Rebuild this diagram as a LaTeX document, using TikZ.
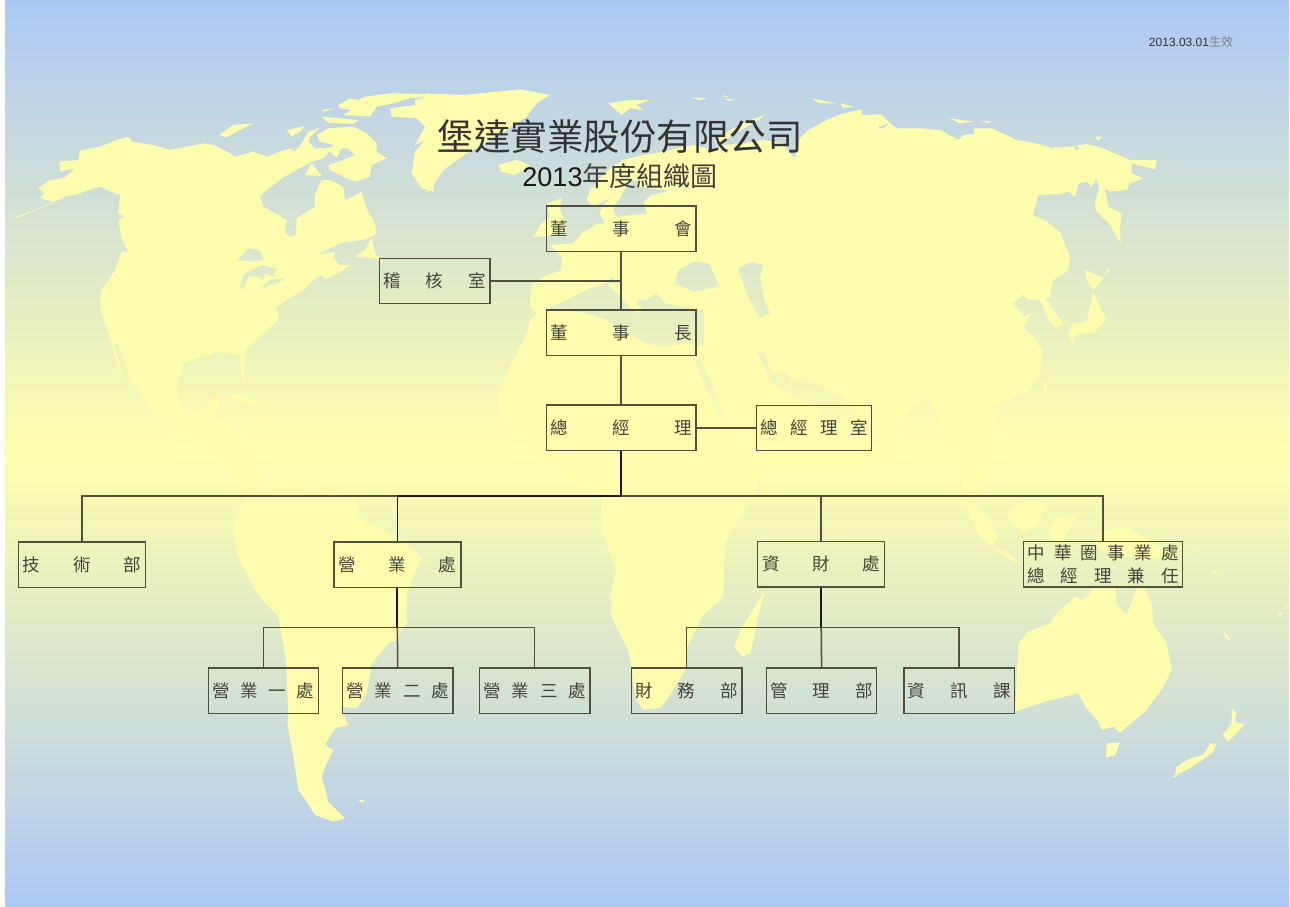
\documentclass[tikz,border=0pt]{standalone}
\usepackage{fontspec}
\setmainfont{Liberation Sans}
\newfontfamily\cjk{Noto Sans CJK TC}
\definecolor{bgblue}{HTML}{ADC8F6}
\definecolor{bgyellow}{HTML}{FFFFAB}
\definecolor{landc}{HTML}{FFFCAE}
\definecolor{linec}{HTML}{50503E}
\definecolor{textc}{HTML}{44443A}
\tikzset{
  landfill/.style={fill=landc,line join=round},
  cropA/.style={shift={(0,80)},scale=1/3},
  cropB/.style={shift={(430,80)},scale=1/3},
  cropC/.style={shift={(860,80)},scale=1/3},
  cropD/.style={shift={(130,340)},scale=1/3},
  cropE/.style={shift={(480,330)},scale=1/3},
  cropF/.style={shift={(860,350)},scale=1/3},
  cropG/.style={shift={(950,580)},scale=1/3},
  cropH/.style={shift={(200,620)},scale=1/3},
  orgbox/.style={draw=linec,line width=1.5pt,inner sep=0pt,text=textc,
    font=\cjk\fontsize{17.5}{22.7}\selectfont,align=center},
  bigbox/.style={orgbox,minimum width=149.7pt,minimum height=45.5pt},
  midbox/.style={orgbox,minimum width=127pt,minimum height=45.5pt},
  smallbox/.style={orgbox,minimum width=110.2pt,minimum height=45.5pt},
  wire/.style={draw=linec,line width=1.5pt},
  heavywire/.style={draw=black!90,line width=1.8pt},
}
\newcommand\bgfill{\shade[top color=bgblue,bottom color=bgblue,middle color=bgyellow] (5,0) rectangle (1289,906);}
\newcommand\terra[1]{\fill[landfill] plot coordinates {#1} -- cycle;}
\newcommand\mar[1]{\begin{scope}\clip plot coordinates {#1} -- cycle;\begin{scope}[reset cm]\bgfill\end{scope}\end{scope}}
\newcommand\spreadtext[2]{\makebox[#1pt][s]{#2}}
\newcommand\gap{\hfill{}}
\begin{document}
\begin{tikzpicture}[x=1pt,y=-1pt]
\useasboundingbox (0,0) rectangle (1290,906);
\fill[white] (0,0) rectangle (1290,906);
\bgfill
% North America, upper part
\begin{scope}[cropA]
\terra{(35,415)(100,392)(160,365)(120,355)(132,340)(115,325)(145,303)(195,292)(225,265)(180,275)(178,245)(235,240)(240,212)(300,200)(350,180)(385,170)(395,185)(460,195)(510,210)(570,198)(610,190)(640,195)(690,220)(705,230)(760,215)(800,230)(840,215)(870,205)(885,215)(905,190)(925,155)(960,143)(930,170)(925,185)(945,205)(975,205)(1000,200)(970,235)(935,245)(900,265)(850,292)(800,330)(780,350)(790,380)(860,420)(855,460)(870,470)(888,465)(890,415)(945,380)(945,345)(965,300)(990,300)(1030,320)(1035,362)(1085,335)(1100,385)(1125,430)(1128,462)(1095,478)(1020,490)(950,525)(1005,515)(1000,535)(1020,555)(1050,555)(1030,570)(975,600)(965,585)(940,600)(915,625)(860,660)(830,680)(835,720)(780,770)(745,800)(725,815)(735,895)(725,900)(718,825)(650,815)(620,830)(580,825)(545,845)(535,900)(392,900)(355,792)(342,795)(372,895)(360,880)(325,760)(300,680)(305,630)(345,570)(365,515)(385,515)(365,475)(355,420)(375,410)(355,400)(360,345)(345,340)(300,320)(265,330)(235,342)(195,350)(165,365)(60,410)}
\terra{(1065,530)(1095,510)(1115,470)(1125,520)(1150,548)(1125,535)}
\mar{(712,540)(745,505)(778,510)(790,540)(760,545)}
\mar{(718,625)(730,585)(785,555)(830,565)(820,590)(795,580)(790,600)(770,590)(745,590)(730,625)}
\mar{(780,625)(810,600)(855,595)(830,610)}
\terra{(950,165)(985,145)(1060,140)(1100,160)(1130,190)(1130,215)(1160,235)(1115,255)(1110,290)(1065,305)(1040,295)(990,270)(985,255)(1030,240)(1065,225)(1045,205)(1025,205)(1010,232)(990,215)(1000,195)(960,185)}
\terra{(915,285)(935,250)(965,288)}
\terra{(860,150)(915,138)(900,155)(875,170)}
\terra{(658,165)(700,135)(760,130)(720,150)(680,172)}
\terra{(965,110)(1075,120)(1060,132)(985,128)}
\terra{(965,90)(1000,85)(975,95)}
\terra{(1015,75)(1050,55)(1075,60)(1095,50)(1170,40)(1290,42)(1290,50)(1230,55)(1180,70)(1130,80)(1110,110)(1030,105)(1055,90)(1020,85)}
\terra{(1170,85)(1245,75)(1245,60)(1300,45)(1300,335)(1265,325)(1235,280)(1245,215)(1275,180)(1245,195)(1275,140)(1250,115)(1175,110)}
\end{scope}
% Mexico, Central America, Caribbean
\begin{scope}[cropD]
\terra{(0,-10)(345,-10)(345,110)(330,40)(270,30)(230,45)(160,70)(140,150)(155,200)(175,225)(210,215)(235,195)(240,175)(262,170)(265,200)(240,235)(290,250)(345,300)(370,350)(400,400)(390,440)(340,440)(260,340)(130,280)(45,190)(0,115)}
\terra{(290,170)(340,160)(395,200)(350,190)}
\terra{(370,230)(420,235)(390,245)}
% South America, upper part
\terra{(360,450)(450,420)(680,470)(680,530)(800,590)(875,650)(830,760)(830,820)(800,905)(460,905)(445,830)(380,760)(320,640)(310,560)(340,475)}
\end{scope}
\begin{scope}[cropH]
\terra{(237,-5)(258,120)(265,280)(262,310)(280,410)(295,510)(320,545)(345,585)(400,605)(435,595)(385,545)(365,470)(380,430)(400,390)(375,375)(405,325)(445,315)(420,260)(470,265)(500,220)(515,130)(570,65)(620,10)(622,-5)}
\terra{(475,540)(495,540)(485,548)}
\end{scope}
% Greenland, Europe, north-west Asia
\begin{scope}[cropB]
\terra{(-10,40)(100,45)(270,28)(360,45)(320,70)(290,110)(230,150)(110,220)(40,270)(0,330)(-10,335)}
\terra{(205,255)(260,240)(300,255)(255,285)(215,275)}
\terra{(350,370)(395,355)(390,385)(410,440)(405,460)(340,470)(310,470)(335,430)(360,410)}
\terra{(535,70)(600,60)(660,60)(620,75)(640,90)(600,85)(575,105)}
\terra{(785,52)(830,55)(805,60)}
\terra{(880,45)(895,50)(885,52)}
\terra{(885,55)(920,60)(895,62)}
\terra{(1145,55)(1220,70)(1170,70)}
\terra{(1230,70)(1270,80)(1240,85)}
\terra{(855,185)(900,150)(950,125)(1005,105)(990,118)(950,140)(900,170)(870,190)}
\terra{(1295,88)(1240,100)(1190,120)(1135,150)(1110,175)(1095,235)(1075,215)(1060,190)(1000,180)(940,190)(880,195)(850,210)(790,195)(740,205)(700,215)(640,225)(580,240)(540,265)(510,295)(480,330)(470,360)(490,378)(520,365)(545,350)(520,375)(508,400)(525,430)(500,432)(455,460)(430,490)(360,495)(395,530)(395,570)(340,590)(305,615)(298,680)(320,700)(300,720)(290,760)(240,860)(225,905)(1295,905)}
\end{scope}
% North-east Asia
\begin{scope}[cropC]
\terra{(-10,90)(10,105)(65,103)(90,130)(110,145)(185,145)(240,150)(295,180)(310,165)(345,160)(340,145)(395,145)(470,180)(520,188)(575,203)(630,200)(680,192)(730,205)(810,240)(890,240)(885,268)(815,250)(815,280)(850,295)(810,310)(800,330)(750,335)(735,325)(745,380)(785,400)(780,440)(782,490)(750,435)(708,392)(705,370)(718,320)(708,295)(695,322)(680,305)(655,312)(645,350)(625,335)(600,342)(535,345)(518,405)(560,425)(600,455)(630,530)(625,570)(580,600)(570,650)(555,655)(610,730)(590,745)(570,730)(540,660)(505,660)(490,645)(457,672)(495,710)(520,695)(490,740)(520,770)(548,820)(535,905)(-10,905)}
\terra{(268,115)(340,125)(300,130)}
\terra{(360,122)(395,125)(385,130)}
\terra{(705,170)(725,170)(715,183)}
\terra{(675,570)(730,595)(700,630)(680,600)}
\terra{(700,635)(738,720)(700,760)(650,760)(640,795)(625,760)(640,730)(680,725)}
\terra{(740,565)(750,570)(735,585)}
\mar{(640,195)(660,205)(650,210)}
\mar{(50,145)(85,130)(70,145)}
\end{scope}
% Africa, Arabia, South Asia
\begin{scope}[cropE]
\terra{(150,40)(80,130)(50,200)(60,260)(100,310)(170,370)(260,440)(366,500)(1485,500)(1515,420)(1539,360)(1569,309)(1536,231)(1581,210)(1650,180)(1668,120)(1686,60)(1660,20)}
\terra{(366,495)(366,600)(408,720)(390,850)(465,1000)(600,1000)(620,900)(730,800)(735,640)(770,575)(820,498)}
\end{scope}
\terra{(602,530)(616,570)(610,597)(624,630)(631,663)(635,697)(643,710)(660,708)(670,695)(687,667)(687,647)(705.7,610)(722,563)(720,530)}
\terra{(765,590)(759,613)(750.6,653)(742.4,656.7)(734,646.7)(742.4,626.7)(758.8,600)}
% Inland seas
\begin{scope}[cropB]
\mar{(575,345)(600,305)(625,300)(620,320)(715,332)(665,345)(640,365)(650,400)(600,405)(560,410)(550,385)}
\mar{(345,690)(410,660)(440,645)(480,625)(520,615)(545,590)(590,640)(610,680)(625,660)(650,660)(680,640)(705,670)(755,680)(820,690)(822,800)(770,790)(700,800)(650,790)(590,760)(530,720)(470,700)(400,690)}
\terra{(530,610)(560,610)(640,690)(620,700)(590,670)}
\mar{(745,570)(790,545)(835,550)(870,620)(790,635)(735,610)}
\mar{(925,565)(965,545)(1000,555)(990,590)(1000,650)(1020,700)(990,715)(950,640)}
\end{scope}
\begin{scope}[cropE]
\mar{(640,85)(660,90)(700,170)(735,260)(720,265)(680,180)}
\mar{(830,65)(855,70)(872,125)(925,130)(935,155)(985,150)(1085,200)(1170,290)(1215,400)(1240,470)(1240,500)(825,500)(835,450)(885,395)(800,345)(760,290)(880,350)(1005,290)(1020,240)(930,190)(880,160)}
\end{scope}
\begin{scope}[cropF]
\mar{(120,230)(150,180)(200,145)(240,200)(255,270)(300,390)(310,440)(95,440)(95,350)}
\terra{(310,445)(345,470)(385,500)(415,560)(395,590)(360,560)(335,510)}
\terra{(395,595)(440,605)(480,640)(440,625)}
\terra{(440,490)(480,460)(530,450)(555,470)(540,520)(490,550)(455,520)}
\terra{(570,530)(585,505)(650,500)(620,550)(610,575)(575,575)}
\terra{(700,575)(730,540)(800,530)(900,590)(965,600)(920,625)(800,620)(720,600)}
\terra{(550,90)(560,95)(560,130)(552,125)}
\terra{(1050,660)(1090,675)(1060,670)}
\terra{(1005,600)(1015,605)(1008,610)}
\end{scope}
% Australia and neighbours
\begin{scope}[cropG]
\terra{(195,395)(205,190)(235,155)(300,130)(325,95)(375,50)(395,60)(420,40)(430,22)(495,22)(500,70)(530,105)(560,25)(580,20)(605,70)(610,130)(650,190)(665,270)(640,320)(590,390)(510,458)(490,440)(455,450)(445,425)(410,385)(385,340)(285,365)(240,380)}
\terra{(470,490)(510,488)(495,525)(468,533)}
\terra{(675,585)(680,560)(720,535)(760,525)(780,490)(800,490)(790,515)(750,545)(710,570)}
\terra{(668,588)(685,583)(675,592)}
\terra{(845,385)(858,395)(855,425)(885,432)(835,485)(818,465)(845,430)}
\terra{(815,148)(842,178)(830,178)}
\terra{(985,100)(1000,95)(990,108)}
\terra{(1005,80)(1015,78)(1005,90)}
\end{scope}
% Texts
\node[inner sep=0pt,text=black!80] (date) at (1191,41.7) {\fontsize{12}{14}\selectfont 2013.03.01{\cjk\color{black!50}生效}};
\node[inner sep=0pt,text=black!80] (title) at (620,136.7) {\cjk\fontsize{36.5}{40}\selectfont 堡達實業股份有限公司};
\node[inner sep=0pt,text=black!90] (subtitle) at (620,176) {\fontsize{27}{30}\selectfont 2013{\cjk\color{black!75} 年度組織圖}};
% Boxes
\node[bigbox] (board) at (621.15,228.85) {\spreadtext{141}{董\gap 事\gap 會}};
\node[orgbox,minimum width=110.2pt,minimum height=45.4pt] (audit) at (434.7,281) {\spreadtext{102}{稽\gap 核\gap 室}};
\node[bigbox] (chair) at (621.15,332.65) {\spreadtext{141}{董\gap 事\gap 長}};
\node[bigbox] (gm) at (621.15,427.8) {\spreadtext{141}{總\gap 經\gap 理}};
\node[orgbox,minimum width=115pt,minimum height=45pt] (gmo) at (814.2,427.8) {\spreadtext{108}{總\gap 經\gap 理\gap 室}};
\node[midbox] (tech) at (81.85,564.5) {\spreadtext{118}{技\gap 術\gap 部}};
\node[midbox] (sales) at (397.35,564.5) {\spreadtext{117}{營\gap 業\gap 處}};
\node[midbox] (fin) at (821.2,564.3) {\spreadtext{117}{資\gap 財\gap 處}};
\node[orgbox,minimum width=158.6pt,minimum height=45.4pt] (china) at (1103,564.4) {\spreadtext{151}{中\gap 華\gap 圈\gap 事\gap 業\gap 處}\\\spreadtext{151}{總\gap 經\gap 理\gap 兼\gap 任}};
\node[smallbox] (s1) at (263.5,690.5) {\spreadtext{102}{營\gap 業\gap 一\gap 處}};
\node[smallbox] (s2) at (397.7,690.5) {\spreadtext{102}{營\gap 業\gap 二\gap 處}};
\node[smallbox] (s3) at (534.7,690.5) {\spreadtext{102}{營\gap 業\gap 三\gap 處}};
\node[smallbox] (f1) at (686.7,690.5) {\spreadtext{103}{財\gap 務\gap 部}};
\node[smallbox] (f2) at (821.6,690.5) {\spreadtext{102}{管\gap 理\gap 部}};
\node[smallbox] (f3) at (959.15,690.5) {\spreadtext{103}{資\gap 訊\gap 課}};
% Connectors
\coordinate (bus) at (621.15,496);
\coordinate (auditjoin) at (621.15,281);
\coordinate (salesbus) at (397.35,627.3);
\coordinate (finbus) at (821.2,627.3);
\draw[wire] (board.south) -- (chair.north);
\draw[wire] (audit.east) -- (auditjoin);
\draw[wire] (chair.south) -- (gm.north);
\draw[wire] (gm.east) -- (gmo.west);
\draw[heavywire] (gm.south) -- (bus);
\draw[wire] (sales.north |- bus) -| (tech.north);
\draw[wire] (bus) -| (fin.north);
\draw[wire] (fin.north |- bus) -| (china.north);
\draw[heavywire,line width=1.5pt] (bus) -| (sales.north);
\draw[heavywire] (sales.south) -- (salesbus);
\draw[wire] (salesbus) -| (s1.north);
\draw[wire] (salesbus) -- (s2.north);
\draw[wire] (salesbus) -| (s3.north);
\draw[heavywire] (fin.south) -- (finbus);
\draw[wire] (finbus) -| (f1.north);
\draw[wire] (finbus) -- (f2.north);
\draw[wire] (finbus) -| (f3.north);
\end{tikzpicture}
\end{document}
